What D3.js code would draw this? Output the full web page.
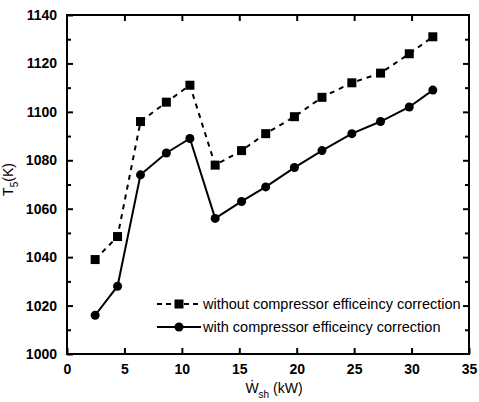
<!DOCTYPE html>
<html>
<head>
<meta charset="utf-8">
<script src="https://cdn.jsdelivr.net/npm/d3@7"></script>
<style>
  body { margin: 0; background: #fff; }
  svg text { font-family: "Liberation Sans", Arial, sans-serif; fill: #000; }
</style>
</head>
<body>
<div class="chart"></div>
<script>
// power input (kW), shared by both series
var wsh = [2.45, 4.4, 6.4, 8.65, 10.7, 12.9, 15.2, 17.3, 19.8, 22.2, 24.8, 27.3, 29.8, 31.85];
var withoutCorr = [1039, 1048.5, 1096, 1104, 1111, 1078, 1084, 1091, 1098, 1106, 1112, 1116, 1124, 1131];
var withCorr = [1016, 1028, 1074, 1083, 1089, 1056, 1063, 1069, 1077, 1084, 1091, 1096, 1102, 1109];
var xTicks = [0, 5, 10, 15, 20, 25, 30, 35];
var yTicks = [1000, 1020, 1040, 1060, 1080, 1100, 1120, 1140];
var yMinor = [1010, 1030, 1050, 1070, 1090, 1110, 1130];
var legendLabels = ["without compressor efficeincy correction", "with compressor efficeincy correction"];

var margin = { top: 15, right: 10, bottom: 48, left: 67 },
    width = 479 - margin.left - margin.right,
    height = 402 - margin.top - margin.bottom;

var svg = d3.select('.chart')
    .append('svg')
    .attr("width", width + margin.left + margin.right)
    .attr("height", height + margin.top + margin.bottom)
    .append("g")
    .attr("transform", "translate(" + margin.left + "," + margin.top + ")");

var x = d3.scaleLinear().domain([0, 35]).range([0, width]);
var y = d3.scaleLinear().domain([1000, 1140]).range([height, 0]);

// frame
svg.append("rect")
    .attr("width", width).attr("height", height)
    .attr("fill", "none").attr("stroke", "#000").attr("stroke-width", 2);

// bottom axis with labels
svg.append("g")
    .attr("transform", "translate(0," + height + ")")
    .call(d3.axisBottom(x).tickValues(xTicks).tickSizeInner(-6).tickSizeOuter(0).tickPadding(10));
// top ticks
svg.append("g")
    .call(d3.axisTop(x).tickValues(xTicks.slice(1, -1)).tickSizeInner(-6).tickSizeOuter(0).tickFormat(""));
// left axis
svg.append("g")
    .call(d3.axisLeft(y).tickValues(yTicks).tickFormat(d3.format("d"))
        .tickSizeInner(-6).tickSizeOuter(0).tickPadding(10));
svg.append("g")
    .call(d3.axisLeft(y).tickValues(yMinor).tickSizeInner(-4).tickSizeOuter(0).tickFormat(""));
// right ticks
svg.append("g")
    .attr("transform", "translate(" + width + ",0)")
    .call(d3.axisRight(y).tickValues(yTicks.slice(1, -1)).tickSizeInner(-6).tickSizeOuter(0).tickFormat(""));
svg.append("g")
    .attr("transform", "translate(" + width + ",0)")
    .call(d3.axisRight(y).tickValues(yMinor).tickSizeInner(-4).tickSizeOuter(0).tickFormat(""));

svg.selectAll(".domain").remove();
svg.selectAll(".tick line").attr("stroke", "#000").attr("stroke-width", 2);
svg.selectAll(".tick text")
    .style("font-size", "14px")
    .style("font-family", "Liberation Sans, Arial, sans-serif")
    .style("font-weight", "bold")
    .attr("fill", "#000");

// axis titles
svg.append("text")
    .attr("transform", "translate(-54," + (height / 2 - 5) + ") rotate(-90)")
    .attr("text-anchor", "middle")
    .style("font-size", "14px")
    .html('T<tspan dy="5" font-size="10px">5</tspan><tspan dy="-5">(K)</tspan>');

svg.append("text")
    .attr("x", x(17.5) + 6)
    .attr("y", height + 39)
    .attr("text-anchor", "middle")
    .style("font-size", "14px")
    .html('\u1E86<tspan dy="5" font-size="10px">sh</tspan><tspan dy="-5"> (kW)</tspan>');

var pts = function (vals) {
    return vals.map(function (v, i) { return [wsh[i], v]; });
};

var line = d3.line()
    .x(function (d) { return x(d[0]); })
    .y(function (d) { return y(d[1]); });

// dashed series with squares
svg.append("path")
    .datum(pts(withoutCorr))
    .attr("d", line)
    .attr("fill", "none").attr("stroke", "#000")
    .attr("stroke-width", 2).attr("stroke-dasharray", "5,5");

svg.selectAll(".sq")
    .data(pts(withoutCorr))
    .enter()
    .append("rect")
    .attr("class", "sq")
    .attr("x", function (d) { return x(d[0]) - 4.5; })
    .attr("y", function (d) { return y(d[1]) - 4.5; })
    .attr("width", 9).attr("height", 9)
    .attr("fill", "#000");

// solid series with circles
svg.append("path")
    .datum(pts(withCorr))
    .attr("d", line)
    .attr("fill", "none").attr("stroke", "#000")
    .attr("stroke-width", 2);

svg.selectAll(".dot")
    .data(pts(withCorr))
    .enter()
    .append("circle")
    .attr("class", "dot")
    .attr("cx", function (d) { return x(d[0]); })
    .attr("cy", function (d) { return y(d[1]); })
    .attr("r", 4.5)
    .attr("fill", "#000");

// legend
var lg = svg.append("g").attr("transform", "translate(90,289)");
lg.append("line").attr("x1", 0).attr("x2", 44).attr("y1", 0).attr("y2", 0)
    .attr("stroke", "#000").attr("stroke-width", 2).attr("stroke-dasharray", "5,4");
lg.append("rect").attr("x", 17.5).attr("y", -4.5).attr("width", 9).attr("height", 9).attr("fill", "#000");
lg.append("text").attr("x", 46).attr("y", 5).style("font-size", "14.5px").text(legendLabels[0]);

lg.append("line").attr("x1", 0).attr("x2", 44).attr("y1", 23).attr("y2", 23)
    .attr("stroke", "#000").attr("stroke-width", 2);
lg.append("circle").attr("cx", 22).attr("cy", 23).attr("r", 4.5).attr("fill", "#000");
lg.append("text").attr("x", 46).attr("y", 28).style("font-size", "14.5px").text(legendLabels[1]);
</script>
</body>
</html>
